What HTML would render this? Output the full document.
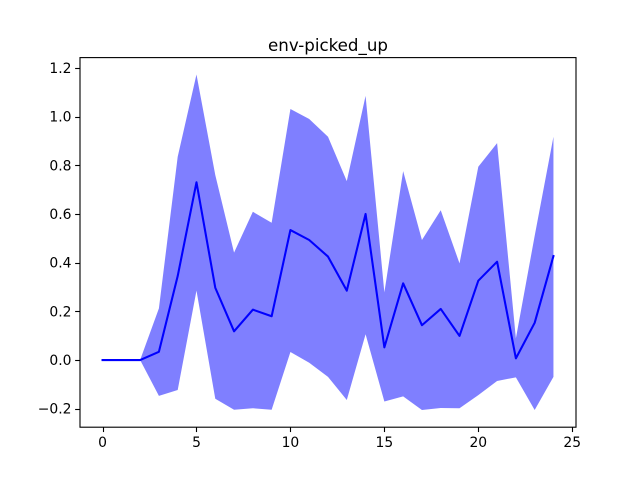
<!DOCTYPE html>
<html>
<head>
<meta charset="utf-8">
<title>env-picked_up</title>
<style>
html,body{margin:0;padding:0;background:#fff;width:640px;height:480px;overflow:hidden}
svg{display:block}
text{font-family:"DejaVu Sans",sans-serif;fill:#000}
</style>
</head>
<body>
<svg id="chart" width="640" height="480" viewBox="0 0 640 480" xmlns="http://www.w3.org/2000/svg">
<rect x="0" y="0" width="640" height="480" fill="#fff"/>
<text x="328" y="51" font-size="16.67" text-anchor="middle">env-picked_up</text>
<g id="band-layer"></g>
<g id="line-layer"></g>
<g id="axis-layer"></g>
</svg>
<script>
const steps = [0,1,2,3,4,5,6,7,8,9,10,11,12,13,14,15,16,17,18,19,20,21,22,23,24];
const meanValues = [0,0,0,0.034,0.345,0.73,0.297,0.118,0.207,0.18,0.534,0.493,0.425,0.285,0.6,0.052,0.315,0.143,0.21,0.099,0.326,0.404,0.007,0.153,0.427];
const upperValues = [0,0,0,0.212,0.835,1.173,0.76,0.441,0.609,0.564,1.031,0.99,0.917,0.735,1.085,0.278,0.776,0.493,0.615,0.397,0.794,0.891,0.089,0.51,0.917];
const lowerValues = [0,0,0,-0.147,-0.123,0.285,-0.159,-0.204,-0.198,-0.204,0.033,-0.011,-0.069,-0.164,0.106,-0.17,-0.149,-0.205,-0.197,-0.198,-0.144,-0.086,-0.071,-0.205,-0.069];
const xTicks = [0,5,10,15,20,25];
const yTicks = [-0.2,0,0.2,0.4,0.6,0.8,1.0,1.2];
const xDomain = [-1.2,25.2];
const yDomain = [-0.2758,1.2422];

const plotLeft = 80, plotRight = 576, plotTop = 57.6, plotBottom = 427.2;
const NS = 'http://www.w3.org/2000/svg';
function xScale(v){ return plotLeft + (v - xDomain[0]) / (xDomain[1] - xDomain[0]) * (plotRight - plotLeft); }
function yScale(v){ return plotBottom - (v - yDomain[0]) / (yDomain[1] - yDomain[0]) * (plotBottom - plotTop); }
function make(tag, attrs, parent){
  const el = document.createElementNS(NS, tag);
  for (const k in attrs) el.setAttribute(k, attrs[k]);
  parent.appendChild(el);
  return el;
}
const bandLayer = document.getElementById('band-layer');
const lineLayer = document.getElementById('line-layer');
const axisLayer = document.getElementById('axis-layer');

const upperPts = steps.map((s,i) => xScale(s).toFixed(2) + ',' + yScale(upperValues[i]).toFixed(2));
const lowerPts = steps.map((s,i) => xScale(s).toFixed(2) + ',' + yScale(lowerValues[i]).toFixed(2)).reverse();
const band = make('polygon', {points: upperPts.concat(lowerPts).join(' '), fill:'#0000ff', 'fill-opacity':'0.5', stroke:'none'}, bandLayer);



const meanLine = make('polyline', {points: steps.map((s,i) => xScale(s).toFixed(2) + ',' + yScale(meanValues[i]).toFixed(2)).join(' '), fill:'none', stroke:'#0000ff', 'stroke-width':'2.08', 'stroke-linejoin':'round', 'stroke-linecap':'square'}, lineLayer);



xTicks.forEach(t => {
  const x = Math.round(xScale(t)) + 0.5;
  const tick = make('line', {x1:x, x2:x, y1:plotBottom, y2:plotBottom + 4.86, stroke:'#000', 'stroke-width':'1.11'}, axisLayer);
  
  
  const label = make('text', {x:xScale(t), y:447, 'font-size':'13.89', 'text-anchor':'middle'}, axisLayer);
  label.textContent = String(t);
  
  
});
yTicks.forEach(t => {
  const y = Math.round(yScale(t)) + 0.5;
  const tick = make('line', {x1:plotLeft - 4.86, x2:plotLeft, y1:y, y2:y, stroke:'#000', 'stroke-width':'1.11'}, axisLayer);
  
  
  const label = make('text', {x:plotLeft - 8.5, y:yScale(t) + 5, 'font-size':'13.89', 'text-anchor':'end'}, axisLayer);
  label.textContent = (t < 0 ? '\u2212' : '') + Math.abs(t).toFixed(1);
  
  
});
const frame = make('rect', {x:plotLeft, y:plotTop, width:plotRight - plotLeft, height:plotBottom - plotTop, fill:'none', stroke:'#000', 'stroke-width':'1.11'}, axisLayer);


</script>
</body>
</html>
